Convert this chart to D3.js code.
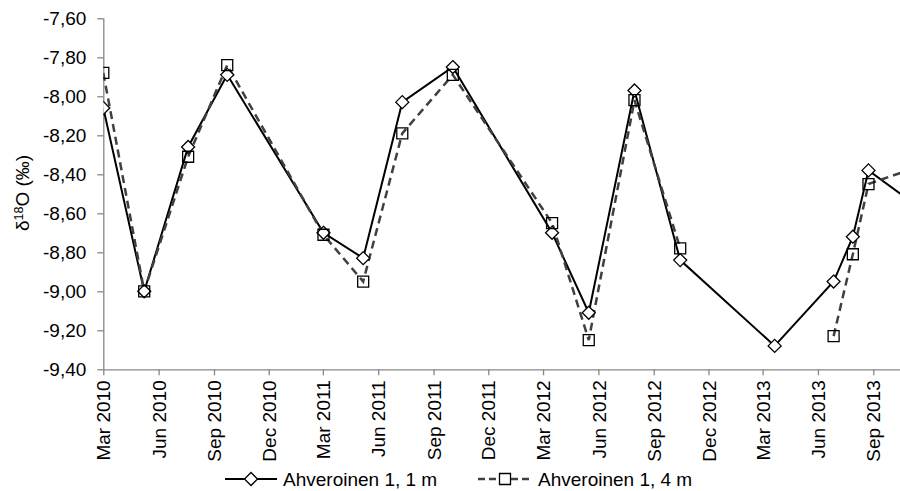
<!DOCTYPE html>
<html>
<head>
<meta charset="utf-8">
<script src="https://cdn.jsdelivr.net/npm/d3@7"></script>
<style>
  html, body { margin: 0; padding: 0; background: #fff; }
  svg { display: block; font-family: "Liberation Sans", Arial, sans-serif; }
</style>
</head>
<body>
<svg id="chart" width="900" height="491"></svg>
<script>
// ---- data ----
const dates = ["2010-03-01","2010-05-08","2010-07-20","2010-09-23","2011-03-02","2011-05-07",
               "2011-07-11","2011-10-03","2012-03-16","2012-05-16","2012-07-31","2012-10-15",
               "2013-03-21","2013-06-27","2013-07-29","2013-08-24","2013-11-25"];
const series1m = [-8.06,-9.00,-8.26,-7.89,-8.70,-8.83,-8.03,-7.85,-8.70,-9.11,-7.97,-8.84,
                  -9.28,-8.95,-8.72,-8.38,-8.59];
const series4m = [-7.88,-9.00,-8.31,-7.84,-8.71,-8.95,-8.19,-7.89,-8.65,-9.25,-8.02,-8.78,
                  null,-9.23,-8.81,-8.45,-8.35];
const seriesNames = ["Ahveroinen 1, 1 m", "Ahveroinen 1, 4 m"];
const tickLabels = ["Mar 2010","Jun 2010","Sep 2010","Dec 2010","Mar 2011","Jun 2011","Sep 2011",
                    "Dec 2011","Mar 2012","Jun 2012","Sep 2012","Dec 2012","Mar 2013","Jun 2013","Sep 2013"];
const yTicks = [-7.6,-7.8,-8.0,-8.2,-8.4,-8.6,-8.8,-9.0,-9.2,-9.4];

// ---- setup ----
const parse = d3.timeParse("%Y-%m-%d");
const parseTick = d3.timeParse("%b %Y");
const svg = d3.select("#chart");
const plotLeft = 103.3, plotTop = 18.3, plotBottom = 369.3;
const x = d3.scaleTime()
  .domain([parse("2010-03-01"), parse("2013-09-01")])
  .range([plotLeft, 873.3]);
const y = d3.scaleLinear().domain([-9.4, -7.6]).range([plotBottom, plotTop]);

const fmt = v => v.toFixed(2).replace(".", ",");
const axisColor = "#878787";
const fontSize = 19;

// y axis
const yAxis = svg.append("g").attr("transform", `translate(${plotLeft},0)`)
  .call(d3.axisLeft(y).tickValues(yTicks).tickFormat(fmt).tickSize(6).tickSizeOuter(0));
yAxis.select(".domain").attr("stroke", axisColor).attr("stroke-width", 1.3)
  .attr("d", `M0.5,${plotTop}V${plotBottom}`);
yAxis.selectAll(".tick line").attr("stroke", axisColor).attr("stroke-width", 1.3);
yAxis.selectAll(".tick text").attr("font-size", fontSize).attr("fill", "#000")
  .attr("font-family", "Liberation Sans, Arial, sans-serif").attr("x", -17);

// x axis
const tickDates = tickLabels.map(parseTick);
const xAxis = svg.append("g").attr("transform", `translate(0,${plotBottom})`)
  .call(d3.axisBottom(x).tickValues(tickDates).tickFormat((d, i) => tickLabels[i]).tickSize(6).tickSizeOuter(0));
xAxis.select(".domain").attr("stroke", axisColor).attr("stroke-width", 1.3)
  .attr("d", `M${plotLeft},0.5H900`);
xAxis.selectAll(".tick line").attr("stroke", axisColor).attr("stroke-width", 1.3);
xAxis.selectAll(".tick text").attr("font-size", fontSize).attr("fill", "#000")
  .attr("font-family", "Liberation Sans, Arial, sans-serif")
  .attr("transform", "rotate(-90)")
  .attr("text-anchor", "end")
  .attr("x", -11).attr("y", 0).attr("dy", "0.35em");

// y title
const yt = svg.append("text")
  .attr("transform", "translate(29,193) rotate(-90)")
  .attr("text-anchor", "middle")
  .attr("font-size", fontSize).attr("fill", "#000");
yt.append("tspan").text("δ");
yt.append("tspan").attr("font-size", 12.5).attr("dy", -6).text("18");
yt.append("tspan").attr("dy", 6).text("O (‰)");

// clip
svg.append("clipPath").attr("id", "clip").append("rect")
  .attr("x", plotLeft).attr("y", 0).attr("width", 900 - plotLeft).attr("height", 491);

const plot = svg.append("g").attr("clip-path", "url(#clip)");

const rows1 = dates.map((d, i) => ({ date: parse(d), v: series1m[i] }));
const rows4 = dates.map((d, i) => ({ date: parse(d), v: series4m[i] }));

const line = d3.line().defined(d => d.v !== null).x(d => x(d.date)).y(d => y(d.v));

const diamond = s => `M0,${-s}L${s},0L0,${s}L${-s},0Z`;
const square = s => `M${-s},${-s}H${s}V${s}H${-s}Z`;

// series 1 (solid, diamonds)
plot.append("path").datum(rows1).attr("d", line)
  .attr("fill", "none").attr("stroke", "#000").attr("stroke-width", 2);
// series 2 (dashed, squares)
plot.append("path").datum(rows4).attr("d", line)
  .attr("fill", "none").attr("stroke", "#404040").attr("stroke-width", 2.5)
  .attr("stroke-dasharray", "8,5");

plot.selectAll(".m1").data(rows1.filter(d => d.v !== null)).join("path")
  .attr("class", "m1")
  .attr("transform", d => `translate(${x(d.date)},${y(d.v)})`)
  .attr("d", diamond(6.5))
  .attr("fill", "#fff").attr("stroke", "#000").attr("stroke-width", 1.3);
plot.selectAll(".m4").data(rows4.filter(d => d.v !== null)).join("path")
  .attr("class", "m4")
  .attr("transform", d => `translate(${x(d.date)},${y(d.v)})`)
  .attr("d", square(5.5))
  .attr("fill", "none").attr("stroke", "#000").attr("stroke-width", 1.3);

// legend
const ly = 479;
const lg = svg.append("g");
const l1 = lg.append("g").attr("transform", `translate(225,${ly})`);
l1.append("line").attr("x1", 0).attr("x2", 52).attr("stroke", "#000").attr("stroke-width", 2);
l1.append("path").attr("transform", "translate(26,0)").attr("d", diamond(6.5))
  .attr("fill", "#fff").attr("stroke", "#000").attr("stroke-width", 1.3);
l1.append("text").attr("x", 58).attr("dy", "0.35em").attr("font-size", fontSize).text(seriesNames[0]);

const l2 = lg.append("g").attr("transform", `translate(478,${ly})`);
l2.append("line").attr("x1", 0).attr("x2", 54).attr("stroke", "#404040").attr("stroke-width", 2.5)
  .attr("stroke-dasharray", "7,4");
l2.append("path").attr("transform", "translate(27,0)").attr("d", square(5.5))
  .attr("fill", "#fff").attr("stroke", "#000").attr("stroke-width", 1.3);
l2.append("text").attr("x", 60).attr("dy", "0.35em").attr("font-size", fontSize).text(seriesNames[1]);
</script>
</body>
</html>
